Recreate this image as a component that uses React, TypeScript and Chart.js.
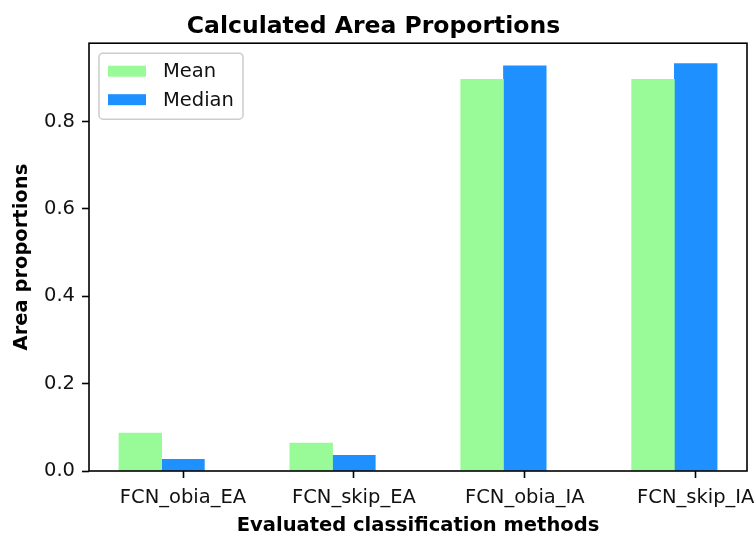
import React, { useEffect, useRef } from "react";
import { Chart, registerables } from "chart.js";

Chart.register(...registerables);

// Data
const categories = ["FCN_obia_EA", "FCN_skip_EA", "FCN_obia_IA", "FCN_skip_IA"];
const meanValues = [0.087, 0.064, 0.897, 0.897];
const medianValues = [0.027, 0.036, 0.928, 0.933];
const yTicks = [0.0, 0.2, 0.4, 0.6, 0.8];
const seriesLabels = ["Mean", "Median"];
const seriesColors = ["#98FB98", "#1E90FF"];

const FONT = "'DejaVu Sans', 'Liberation Sans', sans-serif";
const barWidth = 0.25;

// Axis limits with 5% margins, like matplotlib autoscaling
const xLeft = -1.5 * barWidth;
const xRight = categories.length - 1 + 0.5 * barWidth;
const xMargin = 0.05 * (xRight - xLeft);
const yMax = 1.05 * Math.max(...meanValues, ...medianValues);

// Frame around the plot area (all four spines)
const framePlugin = {
  id: "frame",
  afterDatasetsDraw(chart: any) {
    const { ctx, chartArea } = chart;
    ctx.save();
    ctx.strokeStyle = "#000";
    ctx.lineWidth = 1.6;
    ctx.strokeRect(chartArea.left, chartArea.top, chartArea.right - chartArea.left, chartArea.bottom - chartArea.top);
    ctx.restore();
  },
};

// Legend box in the upper-left corner of the plot area
const insideLegendPlugin = {
  id: "insideLegend",
  afterDraw(chart: any) {
    const { ctx, chartArea } = chart;
    const x0 = chartArea.left + 10;
    const y0 = chartArea.top + 10;
    const w = 144;
    const h = 66;
    const r = 4;
    ctx.save();
    ctx.beginPath();
    ctx.moveTo(x0 + r, y0);
    ctx.lineTo(x0 + w - r, y0);
    ctx.arcTo(x0 + w, y0, x0 + w, y0 + r, r);
    ctx.lineTo(x0 + w, y0 + h - r);
    ctx.arcTo(x0 + w, y0 + h, x0 + w - r, y0 + h, r);
    ctx.lineTo(x0 + r, y0 + h);
    ctx.arcTo(x0, y0 + h, x0, y0 + h - r, r);
    ctx.lineTo(x0, y0 + r);
    ctx.arcTo(x0, y0, x0 + r, y0, r);
    ctx.closePath();
    ctx.fillStyle = "rgba(255,255,255,0.8)";
    ctx.fill();
    ctx.strokeStyle = "#cccccc";
    ctx.lineWidth = 1.5;
    ctx.stroke();

    ctx.font = `19.5px ${FONT}`;
    ctx.textBaseline = "middle";
    ctx.textAlign = "left";
    chart.data.datasets.forEach((ds: any, i: number) => {
      const cy = y0 + 18 + i * 28.5;
      ctx.fillStyle = ds.backgroundColor;
      ctx.fillRect(x0 + 9, cy - 5.5, 38, 11);
      ctx.fillStyle = "#111";
      ctx.fillText(ds.label, x0 + 64, cy + 1);
    });
    ctx.restore();
  },
};

export default function App() {
  const canvasRef = useRef<HTMLCanvasElement | null>(null);

  useEffect(() => {
    const canvas = canvasRef.current;
    if (!canvas) return;

    const datasets = [meanValues, medianValues].map((vals, s) => ({
      label: seriesLabels[s],
      data: vals.map((v, i) => ({ x: i + (s === 0 ? -barWidth : 0), y: v })),
      backgroundColor: seriesColors[s],
      borderWidth: 0,
      grouped: false,
      barPercentage: 1,
      categoryPercentage: 1,
    }));

    const chart = new Chart(canvas, {
      type: "bar",
      data: { datasets },
      plugins: [framePlugin, insideLegendPlugin],
      options: {
        animation: false,
        responsive: true,
        maintainAspectRatio: false,
        layout: { padding: { left: 0, right: 7, top: 0, bottom: 0 } },
        plugins: {
          legend: { display: false },
          tooltip: { enabled: false },
          title: {
            display: true,
            text: "Calculated Area Proportions",
            color: "#000",
            font: { family: FONT, size: 23.5, weight: "bold" },
            padding: { top: 13, bottom: 2 },
          },
        },
        scales: {
          x: {
            type: "linear",
            offset: false,
            min: xLeft - xMargin,
            max: xRight + xMargin,
            afterBuildTicks: (scale: any) => {
              scale.ticks = categories.map((_, i) => ({ value: i }));
            },
            afterFit: (scale: any) => {
              scale.height = 64;
              scale.paddingLeft = 0;
              scale.paddingRight = 0;
            },
            ticks: {
              autoSkip: false,
              maxRotation: 0,
              padding: 8,
              color: "#111",
              font: { family: FONT, size: 19.5 },
              callback: (v: any) => categories[Math.round(Number(v))] ?? "",
            },
            grid: {
              display: true,
              offset: false,
              drawOnChartArea: false,
              drawTicks: true,
              tickLength: 7,
              tickColor: "#000",
              tickWidth: 1.6,
            },
            border: { display: false },
            title: {
              display: true,
              text: "Evaluated classification methods",
              color: "#000",
              font: { family: FONT, size: 19.5, weight: "bold" },
              padding: { top: 0, bottom: -3 },
            },
          },
          y: {
            type: "linear",
            min: 0,
            max: yMax,
            afterBuildTicks: (scale: any) => {
              scale.ticks = yTicks.map((v) => ({ value: v }));
            },
            afterFit: (scale: any) => {
              scale.width = 89;
              scale.paddingTop = 0;
              scale.paddingBottom = 0;
            },
            ticks: {
              padding: 7,
              color: "#111",
              font: { family: FONT, size: 19.5 },
              callback: (v: any) => Number(v).toFixed(1),
            },
            grid: {
              display: true,
              drawOnChartArea: false,
              drawTicks: true,
              tickLength: 7,
              tickColor: "#000",
              tickWidth: 1.6,
            },
            border: { display: false },
            title: {
              display: true,
              text: "Area proportions",
              color: "#000",
              font: { family: FONT, size: 19.5, weight: "bold" },
              padding: { top: 10, bottom: 0 },
            },
          },
        },
      },
    });

    return () => chart.destroy();
  }, []);

  return (
    <div style={{ position: "fixed", left: 0, top: 0, width: 754, height: 535, background: "#fff" }}>
      <canvas ref={canvasRef} />
    </div>
  );
}
